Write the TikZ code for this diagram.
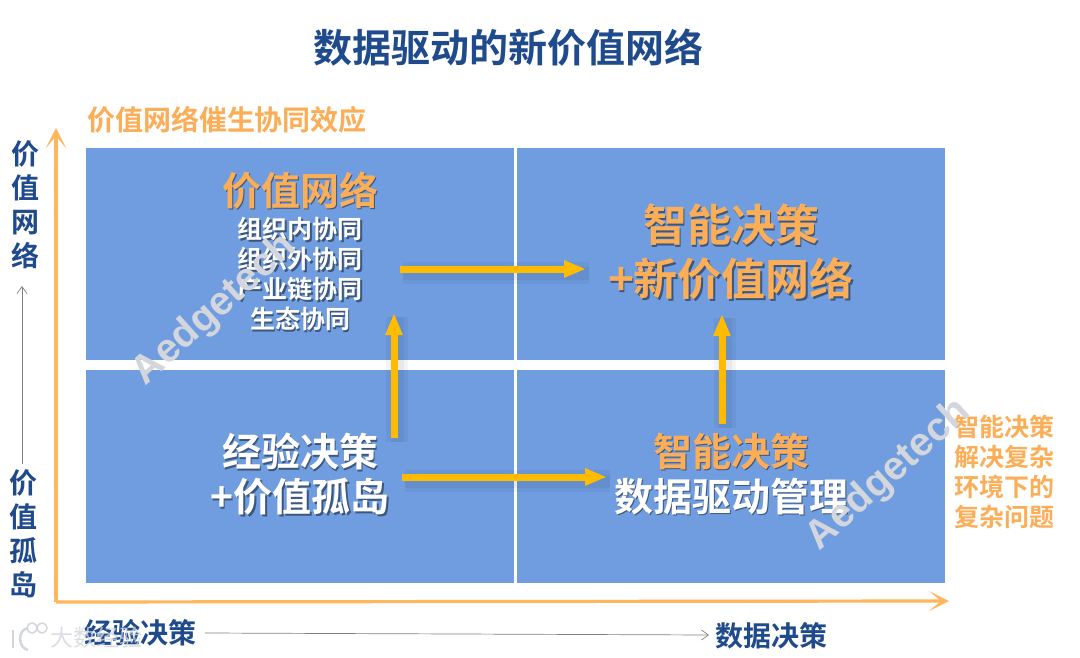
\documentclass[tikz,border=0pt]{standalone}
\usepackage{fontspec}
\setmainfont{Noto Sans CJK SC}[BoldFont={Noto Sans CJK SC Bold}]
\setsansfont{Liberation Sans}
\usepackage{xcolor}
\usetikzlibrary{arrows.meta,positioning}
\definecolor{panelblue}{HTML}{6F9DE0}
\definecolor{titleblue}{HTML}{1F4A8C}
\definecolor{axisorange}{HTML}{FFB65C}
\definecolor{labelorange}{HTML}{FBAE57}
\definecolor{arrowgold}{HTML}{FFBB00}
\definecolor{markgrey}{HTML}{D3D6DC}
\newcommand{\shadowtext}[2]{\leavevmode\rlap{\raisebox{-1.5pt}{\hspace{1.5pt}\textcolor{black!45!panelblue}{#2}}}\textcolor{#1}{#2}}

\begin{document}
\begin{tikzpicture}[
  x=1pt, y=-1pt,
  font=\bfseries,
  >=Stealth,
  panel/.style={fill=panelblue, draw=none},
  axisline/.style={-{Stealth[length=20pt,width=20pt,inset=12pt]}, line width=3.2pt, axisorange},
  flowarrow/.style={-{Stealth[length=22pt,width=16pt,inset=0pt]}, line width=7pt, arrowgold,
    preaction={draw=black, draw opacity=.04, line width=22pt, -, transform canvas={shift={(3pt,-4pt)}}},
    preaction={draw=black, draw opacity=.05, line width=13pt, -, transform canvas={shift={(3pt,-4pt)}}}},
  thinarrow/.style={-{Straight Barb[length=7pt,width=10pt]}, line width=0.7pt, black!50},
  sidelabel/.style={font=\bfseries\fontsize{28}{34}\selectfont, text=titleblue, align=center, text width=30pt, inner sep=0pt},
  axislabel/.style={font=\bfseries\fontsize{28}{28}\selectfont, text=titleblue, inner sep=0pt},
  biglabel/.style={font=\bfseries\fontsize{39}{45}\selectfont, align=center, inner sep=0pt},
  hugelabel/.style={font=\bfseries\fontsize{44}{54}\selectfont, align=center, inner sep=0pt},
  smalllabel/.style={font=\bfseries\fontsize{25}{30}\selectfont, align=center, inner sep=0pt},
  watermark/.style={font=\bfseries\fontsize{40}{40}\selectfont\sffamily, text=markgrey, rotate=42, inner sep=0pt}
]
  \useasboundingbox[fill=white] (0,0) rectangle (1080,658);

  % Title
  \node[font=\bfseries\fontsize{39}{39}\selectfont, text=titleblue, inner sep=0pt] (title) at (508,48) {数据驱动的新价值网络};
  \node[font=\bfseries\fontsize{28}{28}\selectfont, text=labelorange, inner sep=0pt] (synergy) at (227,120) {价值网络催生协同效应};

  % Quadrants
  \path[panel] (86,148) rectangle (514,360);
  \path[panel] (517,148) rectangle (945,360);
  \path[panel] (86,370) rectangle (514,583);
  \path[panel] (517,370) rectangle (945,583);

  % Axes
  \coordinate (origin) at (56,602);
  \coordinate (ytip) at (56,128);
  \coordinate (xtip) at (949,601);
  \draw[axisline] (origin) -- (ytip);
  \draw[axisline] (origin) -- (xtip);

  % Axis labels
  \node[sidelabel] (yhigh) at (25,205) {价\\值\\网\\络};
  \node[sidelabel] (ylow) at (24,534) {价\\值\\孤\\岛};
  \coordinate (ystart) at (22,464);
  \coordinate (yend) at (22,286);
  \draw[thinarrow] (ystart) -- (yend);
  \node[axislabel] (xlow) at (140,633) {经验决策};
  \node[axislabel] (xhigh) at (771,636) {数据决策};
  \coordinate (xstart) at (205,633);
  \coordinate (xend) at (709,635);
  \draw[thinarrow] (xstart) -- (xend);

  % --- Top left ---
  \node[biglabel] (network) at (300,191) {\shadowtext{labelorange}{价值网络}};
  \node[smalllabel] (collab) at (300,275) {\shadowtext{white}{组织内协同}\\\shadowtext{white}{组织外协同}\\\shadowtext{white}{产业链协同}\\\shadowtext{white}{生态协同}};

  % --- Top right ---
  \node[hugelabel] (smartnet) at (731,253) {\shadowtext{labelorange}{智能决策}\\\shadowtext{labelorange}{+新价值网络}};

  % --- Bottom left ---
  \node[biglabel] (experience) at (300,475) {\shadowtext{white}{经验决策}\\\shadowtext{white}{+价值孤岛}};

  % --- Bottom right ---
  \node[biglabel] (smart) at (731,452) {\shadowtext{labelorange}{智能决策}};
  \node[biglabel] (manage) at (731,497) {\shadowtext{white}{数据驱动管理}};

  % Flow arrows
  \coordinate (a1) at (400,269);
  \coordinate (a2) at (586,269);
  \coordinate (b1) at (402,477);
  \coordinate (b2) at (607,477);
  \coordinate (c1) at (394,438);
  \coordinate (c2) at (394,313);
  \coordinate (d1) at (722,424);
  \coordinate (d2) at (722,314);
  \draw[flowarrow] (a1) -- (a2);
  \draw[flowarrow] (b1) -- (b2);
  \draw[flowarrow] (c1) -- (c2);
  \draw[flowarrow] (d1) -- (d2);

  % Right note
  \node[font=\bfseries\fontsize{25}{30}\selectfont, text=labelorange, align=center, inner sep=0pt] (note) at (1004,472) {智能决策\\解决复杂\\环境下的\\复杂问题};

  % Watermarks
  \node[watermark] (markleft) at (215,310) {Aedgetech};
  \node[watermark] (markright) at (889,475) {Aedgetech};
  \draw[markgrey, line width=2.5pt] (13,630) -- (13,648);
  \draw[markgrey, line width=2.5pt] (28,628) .. controls (17,630) and (18,648) .. (28,650);
  \draw[markgrey, line width=1.5pt] (32,628) circle (5) (42,628) circle (5);
  \node[font=\fontsize{23}{23}\selectfont, text=markgrey, opacity=.8, inner sep=0pt] (markbottom) at (96,638) {大数经验};
\end{tikzpicture}
\end{document}
